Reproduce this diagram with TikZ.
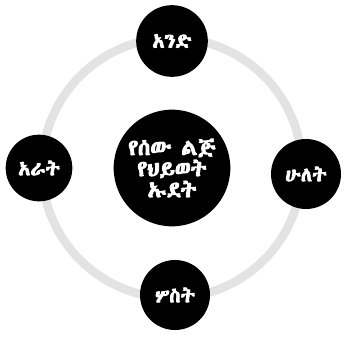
\documentclass[tikz,border=0pt]{standalone}
\usepackage{fontspec}
\IfFontExistsTF{Abyssinica SIL}{\newfontfamily\amh{Abyssinica SIL}[FakeBold=4]}{%
  \IfFontExistsTF{FreeSerif}{\newfontfamily\amh{FreeSerif}[FakeBold=4]}{%
    \newfontfamily\amh{Noto Sans Ethiopic}[FakeBold=4]}}

\begin{document}
\begin{tikzpicture}[
  x=0.03cm, y=-0.03cm,
  dot/.style={circle, fill=black, text=white, align=center, inner sep=0pt},
  big/.style={font=\amh\fontsize{19}{19}\selectfont},
  small/.style={font=\amh\fontsize{17}{19}\selectfont},
  ring/.style={draw=gray!22, line width=0.26cm},
]
\useasboundingbox (0,0) rectangle (347,338);

% === ring ===
\coordinate (mid) at (172,168);
\draw[ring] (mid) circle[radius=3.9cm];

% === hub ===
\node[dot, big, minimum size=3.5cm] (hub) at (mid) {የሰው ልጅ\\[-1pt]የህይወት\\[-1pt]ኡደት};

% === stages ===
\node[dot, small, minimum size=2.15cm] (one) at (172,41) {አንድ};
\node[dot, small, minimum size=2.1cm] (two) at (306,174) {ሁለት};
\node[dot, small, minimum size=2.1cm] (three) at (175,295) {ሦስት};
\node[dot, small, minimum size=2.0cm] (four) at (39,168) {አራት};

\end{tikzpicture}
\end{document}
